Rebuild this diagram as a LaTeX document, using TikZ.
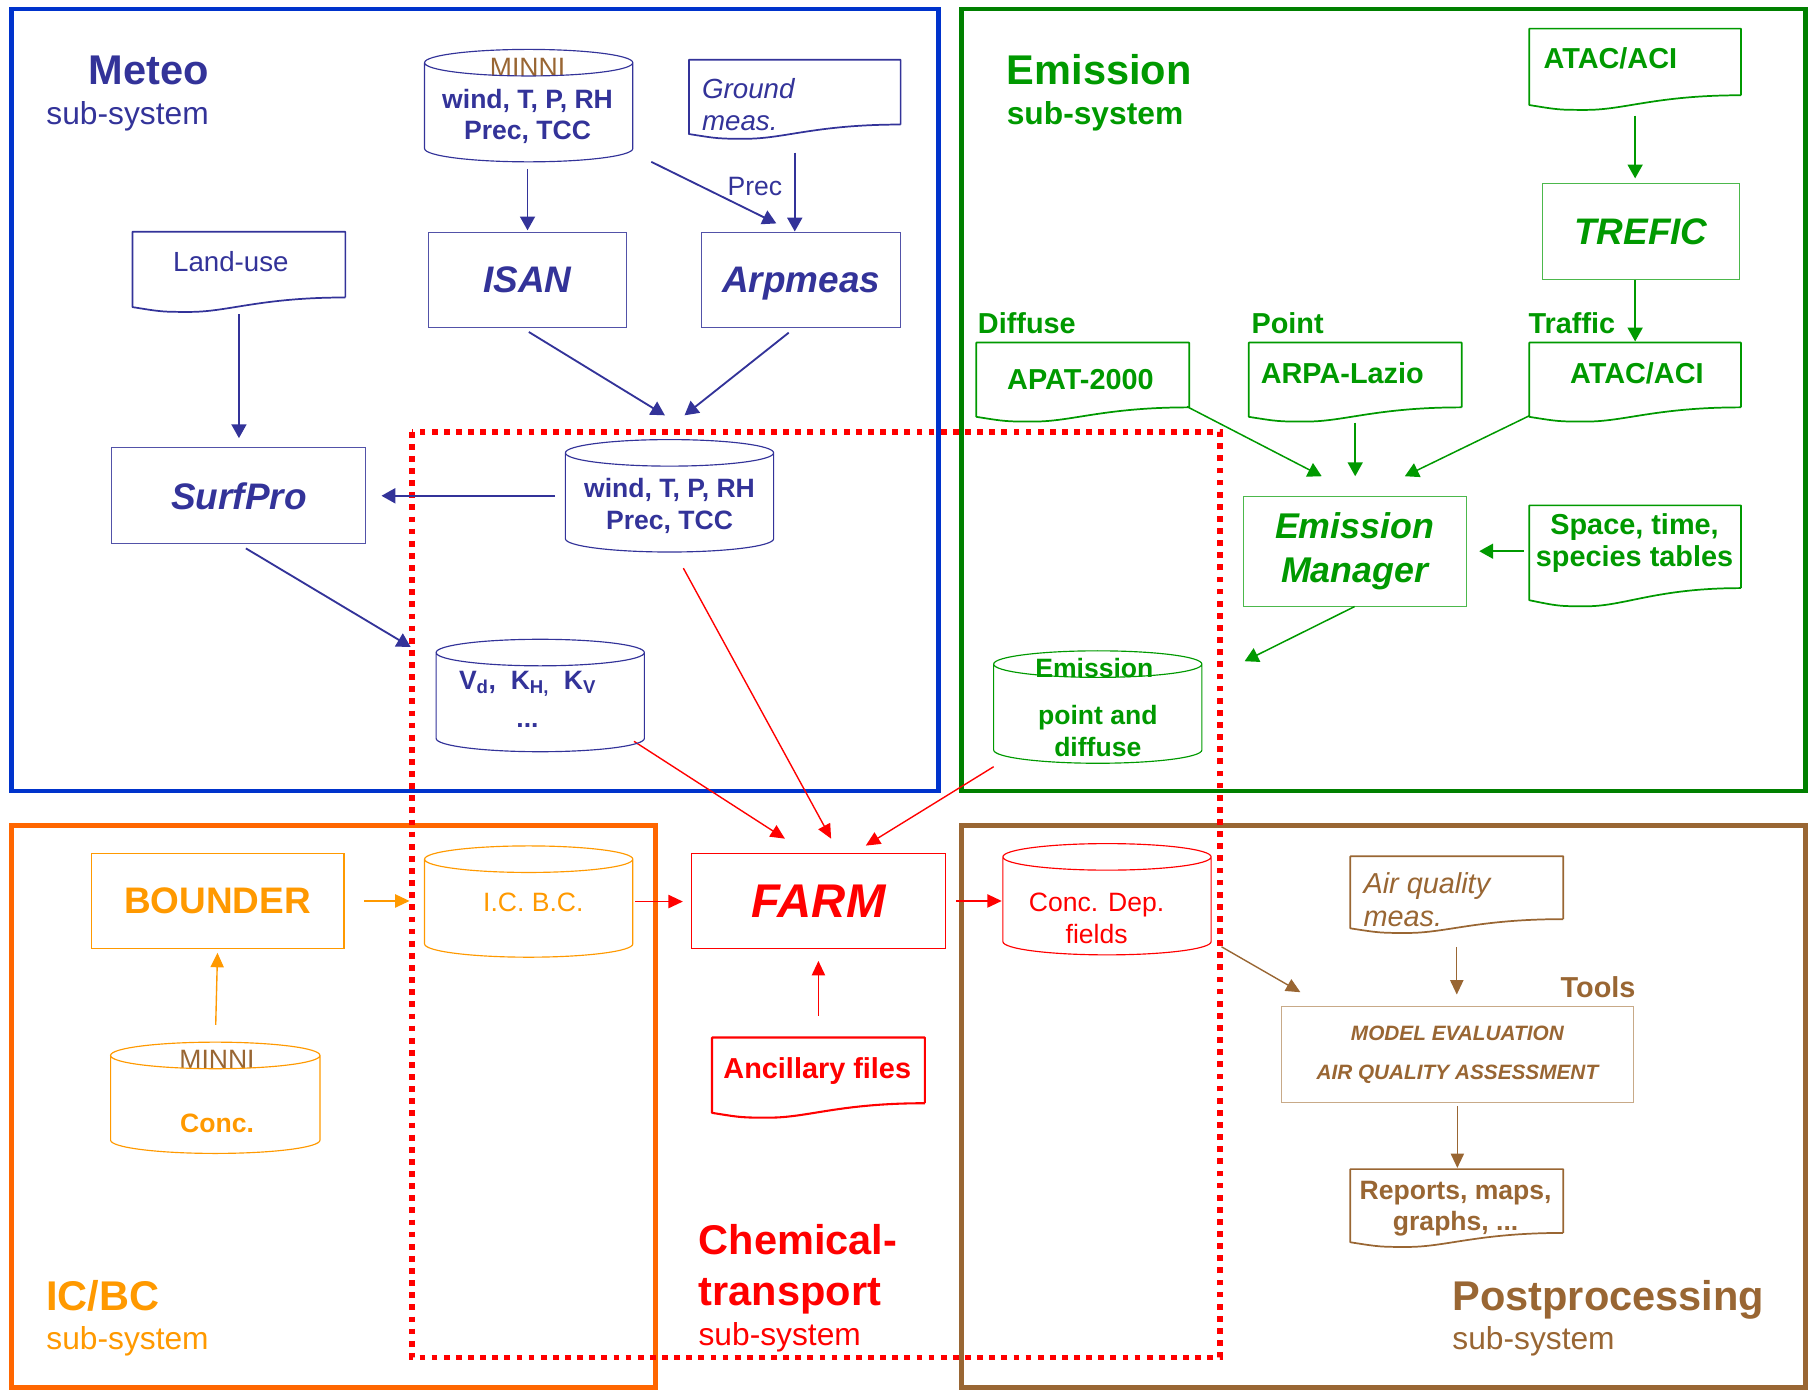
\documentclass[tikz,border=0pt]{standalone}
\usepackage{fontspec}
\setmainfont{Liberation Sans}
\usetikzlibrary{arrows.meta,calc}

\definecolor{meteoframe}{HTML}{0033CC}
\definecolor{meteoc}{HTML}{333399}
\definecolor{emisframe}{HTML}{008000}
\definecolor{emisc}{HTML}{009900}
\definecolor{icbcframe}{HTML}{FF6600}
\definecolor{icbcc}{HTML}{FF9900}
\definecolor{postc}{HTML}{996633}
\definecolor{toolsc}{HTML}{C8AA88}
\definecolor{chemc}{HTML}{FF0000}

\newcommand{\fs}[1]{\fontsize{#1}{#1}\selectfont}

\tikzset{
  frame/.style={line width=3.8pt},
  chemarea/.style={draw=chemc, line width=5pt, dash pattern=on 5pt off 5.5pt},
  box/.style={draw, line width=0.9pt, inner sep=0pt, minimum height=83pt},
  hold/.style={inner sep=0pt},
  txt/.style={inner sep=0pt, anchor=base},
  ltxt/.style={inner sep=0pt, anchor=base west},
  arr/.style={-{Triangle[length=12pt,width=13pt]}, line width=1.6pt},
  tarr/.style={-{Triangle[length=12.5pt,width=11.5pt]}, line width=1.2pt},
}

% document symbol with a wavy lower edge
\newcommand{\drawdoc}[2][]{%
  \draw[line join=round, #1] let \p1=(#2.south west), \p2=(#2.north east),
      \n1={\x2-\x1}, \n2={\y2-\y1} in
    (\x2,\y1+0.18*\n2) -- (\x2,\y2) -- (\x1,\y2) -- (\x1,\y1+0.06*\n2)
    .. controls (\x1+0.14*\n1,\y1) .. (\x1+0.27*\n1,\y1)
    .. controls (\x1+0.45*\n1,\y1) and (\x1+0.6*\n1,\y1+0.18*\n2) .. (\x2,\y1+0.18*\n2);
}
% data store (cylinder)
\newcommand{\drawcyl}[2][]{%
  \draw[#1] let \p1=(#2.south west), \p2=(#2.north east),
      \n1={(\x2-\x1)/2} in
    (\x1,\y2-11.5pt) -- (\x1,\y1+11.5pt)
    arc[start angle=180, end angle=360, x radius=\n1, y radius=11.5pt]
    -- (\x2,\y2-11.5pt)
    arc[start angle=0, end angle=360, x radius=\n1, y radius=11.5pt];
}

\begin{document}
\begin{tikzpicture}[x=1pt, y=-1pt]
\useasboundingbox (0,0) rectangle (1568,1205);

% sub-system frames
\draw[frame, meteoframe] (10,8) rectangle (813,685);
\draw[frame, emisframe] (833,8) rectangle (1564,685);
\draw[frame, icbcframe] (10,715) rectangle (568,1202);
\draw[frame, postc] (833,715) rectangle (1564,1202);
\draw[chemarea] (357,374) rectangle (1057,1176);

% ---- Meteo
\node[ltxt, anchor=base east, text=meteoc, font=\fs{36}\bfseries] (meteo) at (181,73) {Meteo};
\node[ltxt, anchor=base east, text=meteoc, font=\fs{27.5}] (meteosub) at (181,108) {sub-system};

\node[hold, minimum width=180pt, minimum height=97pt] (minni) at (458,91.5) {};
\node[txt, text=postc, font=\fs{23}] (minnil) at (457,66) {MINNI};
\node[txt, text=meteoc, font=\fs{23}\bfseries] (minnia) at (457,94) {wind, T, P, RH};
\node[txt, text=meteoc, font=\fs{23}\bfseries] (minnib) at (457,121) {Prec, TCC};

\node[hold, minimum width=183pt, minimum height=68pt] (ground) at (688.5,86) {};
\node[ltxt, text=meteoc, font=\fs{24}\itshape] (grounda) at (608,85) {Ground};
\node[ltxt, text=meteoc, font=\fs{24}\itshape] (groundb) at (608,113) {meas.};

\node[hold, minimum width=184pt, minimum height=69pt] (landuse) at (207,235.5) {};
\node[txt, text=meteoc, font=\fs{24}] (landusel) at (200,235) {Land-use};

\node[box, draw=meteoc!85, minimum width=172pt, text=meteoc, font=\fs{32}\bfseries\itshape] (isan) at (457,242.5) {ISAN};
\node[box, draw=meteoc!85, minimum width=172pt, text=meteoc, text depth=0pt, font=\fs{32}\bfseries\itshape] (arpmeas) at (694,242.5) {Arpmeas};
\node[box, draw=meteoc!85, minimum width=220pt, text=meteoc, font=\fs{32}\bfseries\itshape] (surfpro) at (207,429.5) {SurfPro};

\node[hold, minimum width=180pt, minimum height=97pt] (met) at (580,429.5) {};
\node[txt, text=meteoc, font=\fs{23}\bfseries] (meta) at (580,431) {wind, T, P, RH};
\node[txt, text=meteoc, font=\fs{23}\bfseries] (metb) at (580,459) {Prec, TCC};

\node[hold, minimum width=180pt, minimum height=97pt] (vd) at (468,602.5) {};
\node[txt, text=meteoc, font=\fs{23}\bfseries] (vda) at (457,597) {V\textsubscript{d},\ \ K\textsubscript{H,}\ \ K\textsubscript{V}};
\node[txt, text=meteoc, font=\fs{23}\bfseries] (vdb) at (457,630) {...};

\node[txt, text=meteoc, font=\fs{23}] (prec) at (654,169) {Prec};

\draw[arr, meteoc, shorten <=6pt, shorten >=1pt] (isan.north |- minni.south) -- (isan.north);
\draw[arr, meteoc] ([xshift=16pt]minni.south east) -- ([xshift=65pt,yshift=7pt]arpmeas.north west);
\draw[arr, meteoc, shorten <=12pt] (ground.south) -- (ground.south |- arpmeas.north);
\draw[arr, meteoc, shorten <=2pt, shorten >=8pt] (landuse.south) -- (landuse.south |- surfpro.north);
\draw[arr, meteoc, shorten <=6pt] ([xshift=-4pt]isan.south) -- ([xshift=-4pt,yshift=21pt]met.north);
\draw[arr, meteoc, shorten <=6pt] ([xshift=-6pt]arpmeas.south) -- ([xshift=13pt,yshift=21pt]met.north);
\draw[arr, meteoc, shorten <=9pt, shorten >=13pt] (met.west) -- (met.west -| surfpro.east);
\draw[arr, meteoc, shorten <=7pt] (surfpro.south) -- ([xshift=-22pt,yshift=42pt]vd.west);

% ---- Emission
\node[ltxt, text=emisc, font=\fs{36}\bfseries] (emis) at (872,73) {Emission};
\node[ltxt, text=emisc, font=\fs{27.5}\bfseries] (emissub) at (872,108) {sub-system};

\node[hold, minimum width=183pt, minimum height=70pt] (atac1) at (1416.5,60) {};
\node[ltxt, text=emisc, font=\fs{25}\bfseries] (atac1l) at (1337,59) {ATAC/ACI};
\node[box, draw=emisc!70, minimum width=171pt, text=emisc, font=\fs{32}\bfseries\itshape] (trefic) at (1421.5,200.5) {TREFIC};

\node[ltxt, text=emisc, font=\fs{25}\bfseries] (diffuse) at (847,289) {Diffuse};
\node[ltxt, text=emisc, font=\fs{25}\bfseries] (point) at (1084,289) {Point};
\node[ltxt, text=emisc, font=\fs{25}\bfseries] (traffic) at (1324,289) {Traffic};

\node[hold, minimum width=184pt, minimum height=68pt] (apat) at (938,331) {};
\node[txt, text=emisc, font=\fs{25}\bfseries] (apatl) at (936,337) {APAT-2000};
\node[hold, minimum width=184pt, minimum height=68pt] (arpa) at (1174,331) {};
\node[ltxt, text=emisc, font=\fs{25}\bfseries] (arpal) at (1092,332) {ARPA-Lazio};
\node[hold, minimum width=183pt, minimum height=68pt] (atac2) at (1416.5,331) {};
\node[txt, text=emisc, font=\fs{25}\bfseries] (atac2l) at (1418,332) {ATAC/ACI};

\node[box, draw=emisc!70, minimum width=193pt, minimum height=95pt, text=emisc,
  font=\fontsize{31}{38}\selectfont\bfseries\itshape, align=center] (em) at (1173.5,477.5) {Emission\\Manager};

\node[hold, minimum width=183pt, minimum height=87pt] (space) at (1416.5,481.5) {};
\node[txt, text=emisc, font=\fs{25}\bfseries] (spacea) at (1416,463) {Space, time,};
\node[txt, text=emisc, font=\fs{25}\bfseries] (spaceb) at (1416,491) {species tables};

\node[hold, minimum width=180pt, minimum height=97pt] (emcyl) at (951,612.5) {};
\node[txt, text=emisc, font=\fs{23}\bfseries] (emcyla) at (948,587) {Emission};
\node[txt, text=emisc, font=\fs{23}\bfseries] (emcylb) at (951,628) {point and};
\node[txt, text=emisc, font=\fs{23}\bfseries] (emcylc) at (951,655) {diffuse};

\draw[arr, emisc, shorten <=5pt, shorten >=4pt] (atac1.south) -- (atac1.south |- trefic.north);
\draw[arr, emisc, shorten >=1pt] (trefic.south -| atac1.south) -- (atac2.north -| atac1.south);
\draw[arr, emisc, line width=1.3pt] ([xshift=-2pt,yshift=13pt]apat.south east) -- ([xshift=-28.5pt,yshift=17pt]em.north);
\draw[arr, emisc, line width=1.3pt, shorten <=1pt, shorten >=17pt] (arpa.south) -- (arpa.south |- em.north);
\draw[arr, emisc, line width=1.3pt] ([yshift=5pt]atac2.south west) -- ([xshift=43.5pt,yshift=17pt]em.north);
\draw[arr, emisc, line width=1.3pt, shorten <=5pt, shorten >=11pt] (space.west |- em.east) -- (em.east);
\draw[arr, emisc, line width=1.3pt] (em.south) -- ([xshift=37pt,yshift=-9pt]emcyl.north east);

% ---- IC/BC
\node[ltxt, text=icbcc, font=\fs{36}\bfseries] (icbct) at (40,1135) {IC/BC};
\node[ltxt, text=icbcc, font=\fs{27.5}] (icbcsub) at (40,1169) {sub-system};
\node[box, draw=icbcc, minimum width=219pt, text=icbcc, font=\fs{32}\bfseries] (bounder) at (188.5,780.5) {BOUNDER};
\node[hold, minimum width=180pt, minimum height=96pt] (icbc) at (458,781) {};
\node[txt, text=icbcc, font=\fs{23}] (icbcl) at (462,790) {I.C. B.C.};
\node[hold, minimum width=181pt, minimum height=96pt] (mconc) at (186.5,951) {};
\node[txt, text=postc, font=\fs{23}] (mconca) at (188,926) {MINNI};
\node[txt, text=icbcc, font=\fs{23}\bfseries] (mconcb) at (188,981) {Conc.};

\draw[tarr, icbcc, shorten <=17pt, shorten >=13pt] (bounder.east) -- (bounder.east -| icbc.west);
\draw[tarr, icbcc, shorten <=15pt, shorten >=3pt] (mconc.north) -- (bounder.south);

% ---- Chemical-transport
\node[ltxt, text=chemc, font=\fs{36}\bfseries] (chema) at (605,1087) {Chemical-};
\node[ltxt, text=chemc, font=\fs{36}\bfseries] (chemb) at (605,1131) {transport};
\node[ltxt, text=chemc, font=\fs{27.5}] (chemsub) at (605,1166) {sub-system};
\node[box, draw=chemc, minimum width=220pt, text=chemc, font=\fs{41}\bfseries\itshape] (farm) at (709,780.5) {FARM};
\node[hold, minimum width=184pt, minimum height=69pt] (anc) at (709,933.5) {};
\node[txt, text=chemc, font=\fs{25}\bfseries] (ancl) at (708,934) {Ancillary files};

\draw[tarr, chemc] ([xshift=-9pt,yshift=9pt]vd.south east) -- ([xshift=-29pt,yshift=12pt]farm.north);
\draw[tarr, chemc] ([xshift=12pt,yshift=-14pt]met.south) -- ([xshift=11pt,yshift=12pt]farm.north);
\draw[tarr, chemc] ([yshift=-3pt]emcyl.south west) -- ([xshift=41pt,yshift=6pt]farm.north);
\draw[tarr, chemc, shorten <=2pt, shorten >=7pt] (icbc.east) -- (icbc.east -| farm.west);
\draw[tarr, chemc, shorten <=19pt, shorten >=10pt] (anc.north) -- (anc.north |- farm.south);

% ---- Postprocessing
\node[ltxt, text=postc, font=\fs{36}\bfseries] (postt) at (1258,1135) {Postprocessing};
\node[ltxt, text=postc, font=\fs{27.5}] (postsub) at (1258,1169) {sub-system};
\node[hold, minimum width=180pt, minimum height=96pt] (cdep) at (959,779) {};
\node[txt, text=chemc, font=\fs{23}] (cdepa) at (950,790) {Conc. Dep.};
\node[txt, text=chemc, font=\fs{23}] (cdepb) at (950,817) {fields};
\node[hold, minimum width=184pt, minimum height=66pt] (aqm) at (1262,775) {};
\node[ltxt, text=postc, font=\fs{25}\itshape] (aqma) at (1181,774) {Air quality};
\node[ltxt, text=postc, font=\fs{25}\itshape] (aqmb) at (1181,803) {meas.};
\node[box, draw=toolsc, minimum width=305pt, text=postc,
  font=\fontsize{18}{34}\selectfont\bfseries\itshape, align=center] (tools) at (1262.5,913.5) {MODEL EVALUATION\\AIR QUALITY ASSESSMENT};
\node[ltxt, anchor=base east, text=postc, font=\fs{25}\bfseries] (toolsl) at (1417,864) {Tools};
\node[hold, minimum width=184pt, minimum height=67pt] (reports) at (1262,1046.5) {};
\node[txt, text=postc, font=\fs{23}\bfseries] (reportsa) at (1261,1039) {Reports, maps,};
\node[txt, text=postc, font=\fs{23}\bfseries] (reportsb) at (1261,1066) {graphs, ...};

\draw[tarr, chemc, shorten <=9pt, shorten >=1pt] (farm.east) -- (farm.east -| cdep.west);
\draw[tarr, postc, shorten <=12pt, shorten >=10pt] (aqm.south) -- (aqm.south |- tools.north);
\draw[tarr, postc] ([xshift=9pt,yshift=7pt]cdep.south east) -- ([xshift=17pt,yshift=12pt]tools.north west);
\draw[tarr, postc, shorten <=3pt, shorten >=1pt] (tools.south) -- (tools.south |- reports.north);

% ---- outlines of stores and documents
\drawcyl[meteoc, line width=1pt]{minni}
\drawcyl[meteoc, line width=1pt]{met}
\drawcyl[meteoc, line width=1pt]{vd}
\drawcyl[emisc, line width=1pt]{emcyl}
\drawcyl[icbcc, line width=1pt]{icbc}
\drawcyl[icbcc, line width=1pt]{mconc}
\drawcyl[chemc, line width=1pt]{cdep}
\drawdoc[meteoc, line width=1.5pt]{ground}
\drawdoc[meteoc, line width=1.5pt]{landuse}
\drawdoc[emisc, line width=1.5pt]{atac1}
\drawdoc[emisc, line width=1.5pt]{apat}
\drawdoc[emisc, line width=1.5pt]{arpa}
\drawdoc[emisc, line width=1.5pt]{atac2}
\drawdoc[emisc, line width=1.5pt]{space}
\drawdoc[chemc, line width=1.8pt]{anc}
\drawdoc[postc, line width=1.5pt]{aqm}
\drawdoc[postc, line width=1.5pt]{reports}
\end{tikzpicture}
\end{document}
